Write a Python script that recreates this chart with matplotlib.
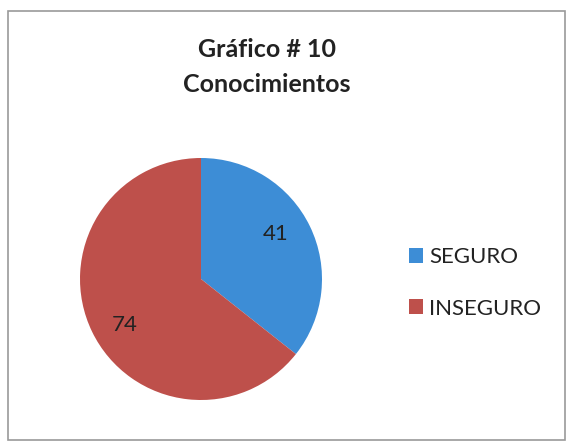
import matplotlib
matplotlib.use("Agg")
import matplotlib.pyplot as plt
from matplotlib.patches import Rectangle

categories = ["SEGURO", "INSEGURO"]
values = [41, 74]
colors = ["#3D8DD6", "#BE504B"]
title = "Gráfico # 10\nConocimientos"

plt.rcParams['font.family'] = ['Lato', 'DejaVu Sans']

W, H = 567, 447
fig = plt.figure(figsize=(W/100, H/100), dpi=100)
fig.patch.set_facecolor("white")

# border
fig.patches.append(Rectangle((8/W, 1-440/H), (565-8)/W, (440-11)/H,
                             transform=fig.transFigure, fill=False,
                             edgecolor="#9a9a9a", linewidth=1.2))

fig.text(267/W, 1-67/H, title, ha="center", va="center", fontsize=18,
         fontweight="bold", color="#222222", linespacing=1.65)

cx, cy, r = 201, 279, 121
ax = fig.add_axes([(cx-r)/W, 1-(cy+r)/H, 2*r/W, 2*r/H])
wedges, _ = ax.pie(values, colors=colors, startangle=90, counterclock=False,
                   radius=1.0, wedgeprops=dict(linewidth=0))
ax.set_xlim(-1, 1); ax.set_ylim(-1, 1)
ax.set_aspect("equal")
ax.axis("off")

label_pos = [(276, 234), (125, 325)]
for (px, py), v in zip(label_pos, values):
    fig.text(px/W, 1-py/H, str(v), ha="center", va="center", fontsize=16,
             color="#222222")

fig.legend(wedges, categories, loc="center left",
           bbox_to_anchor=(389/W, 1-283/H), frameon=False, fontsize=16,
           handlelength=0.65, handleheight=0.65, handletextpad=0.25,
           labelspacing=1.4, labelcolor="#222222")

fig.savefig("out.png", dpi=100)
